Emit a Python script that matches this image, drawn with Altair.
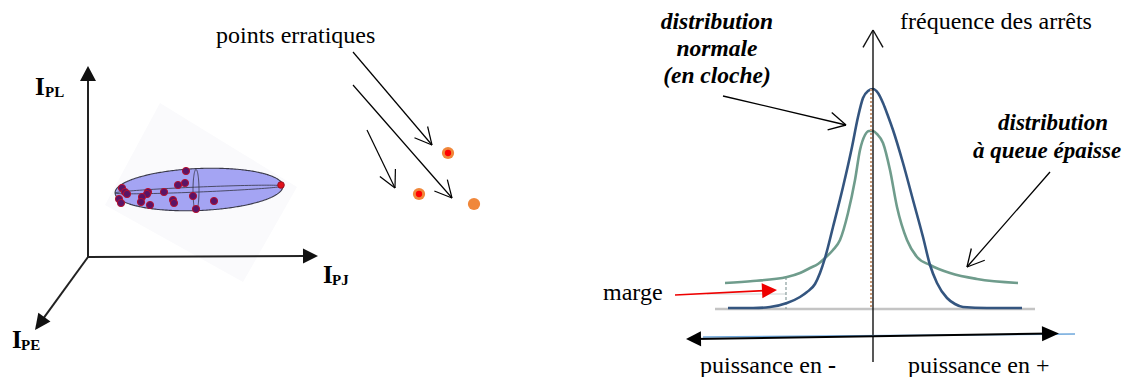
import math
import altair as alt
import pandas as pd

# ---------------- canvas (data units = picture pixels) ----------------
X_DOMAIN = [8, 1123]
Y_DOMAIN = [8, 377]
W_PLOT = 1115
H_PLOT = 369

# ---------------- left panel : 3-D axes ----------------
AXIS_ORIGIN = (88, 257)
AXIS_TIP_X = [88, 318, 35]
AXIS_TIP_Y = [66, 256, 330]
AXIS_HEAD_LEN = [15, 15, 16]
AXIS_HEAD_W = [16, 15, 15]
AXIS_SUB = ["PL", "PJ", "PE"]
AXIS_I_X = [35, 323, 12]
AXIS_I_Y = [95, 283, 348]
AXIS_SUB_X = [45, 332, 21]
AXIS_SUB_Y = [97, 285, 350]

# faint backdrop behind the ellipse (polygon vertices, in order)
HALO_X = [105, 160, 297, 243]
HALO_Y = [205, 103, 187, 282]

# ellipsoid (centre, semi-axes, tilt in degrees)
ELL_CX, ELL_CY, ELL_A, ELL_B, ELL_TILT = 199, 189.5, 84, 21, -2.4
RING_FLAT = (199, 189.5, 84, 2.5, -2.4)
RING_VERT = (196, 190.5, 3, 21, 0)

CLUSTER_X = [186, 178, 185, 122, 125, 127, 148, 147, 164, 142, 141, 150, 173, 174, 193, 214, 196, 119, 121]
CLUSTER_Y = [171, 185, 183, 188, 192, 194, 192, 194, 192, 197, 202, 205, 200, 203, 196, 201, 209, 199, 203]
EXTREME_X = [281]
EXTREME_Y = [185]

OUTLIER_X = [448, 419, 474]
OUTLIER_Y = [153, 194, 204]
OUTLIER_CORE = [True, True, False]

POINTER_TAIL_X = [353, 353, 367]
POINTER_TAIL_Y = [52, 85, 130]
POINTER_TIP_X = [432, 452, 395]
POINTER_TIP_Y = [145, 198, 188]

# ---------------- right panel : distributions ----------------
BELL_X = [728, 753, 770, 787, 800, 807, 815, 820, 825, 833, 843, 852, 858, 863, 868, 873,
          878, 883, 888, 893, 903, 913, 923, 930, 937, 947, 955, 963, 987, 1022]
BELL_Y = [308, 308, 307, 303, 297, 292, 284, 273, 258, 227, 187, 147, 117, 98, 91, 89,
          93, 103, 116, 130, 163, 200, 237, 265, 283, 298, 304, 307, 308, 308]

FAT_X = [725, 753, 787, 800, 810, 818, 825, 833, 840, 848, 855, 860, 865, 869, 873,
         877, 883, 890, 897, 907, 917, 930, 950, 977, 1018]
FAT_Y = [283, 281, 277, 273, 268, 264, 258, 250, 240, 213, 180, 150, 135, 131, 131,
         134, 143, 170, 207, 240, 257, 265, 273, 279, 283]

FREQ_AXIS_X = 873
FREQ_AXIS_Y = [362, 30]
POWER_TIP_LEFT = (686, 339)
POWER_TIP_RIGHT = (1059, 333.5)
POWER_BLUE = [(703, 337), (1075, 334)]
BASELINE = [(715, 309), (1035, 309)]
MARGIN_GUIDE = [(707, 294), (786, 294)]
MARGIN_DASH = [(786, 277), (786, 309)]
CENTER_DOT = [(871, 89), (871, 309)]
MARGE_ARROW = [(675, 295), (777, 290)]
NORMAL_ARROW = [(723, 96), (846, 125)]
FAT_ARROW = [(1050, 172), (967, 267)]

# ---------------- texts ----------------
REG_TEXT = ["points erratiques", "fréquence des arrêts", "marge", "puissance en", "puissance en +"]
REG_X = [216, 900, 603, 700, 908]
REG_Y = [43, 29, 300, 373, 373]
MINUS_TEXT = ["-"]
MINUS_X = [828]
MINUS_Y = [373]

BI_C_TEXT = ["distribution", "normale", "(en cloche)"]
BI_C_X = [717, 717, 717]
BI_C_Y = [29, 56, 83]

BI_L_TEXT = ["distribution", "à queue épaisse"]
BI_L_X = [998, 973]
BI_L_Y = [130, 158]

# =====================================================================
FONT = "Liberation Serif"
xs = alt.Scale(domain=X_DOMAIN, nice=False, zero=False)
ys = alt.Scale(domain=Y_DOMAIN, reverse=True, nice=False, zero=False)
X = alt.X("x:Q", scale=xs, axis=None)
Y = alt.Y("y:Q", scale=ys, axis=None, stack=None)


def unit(tail, tip):
    dx, dy = tip[0] - tail[0], tip[1] - tail[1]
    d = math.hypot(dx, dy)
    return dx / d, dy / d


def poly_rows(pts, gid, color):
    rows = []
    xs_ = sorted(set(round(p[0], 4) for p in pts))
    n = len(pts)
    for x in xs_:
        yy = []
        for i in range(n):
            (x1, y1), (x2, y2) = pts[i], pts[(i + 1) % n]
            if abs(x2 - x1) < 1e-9:
                if abs(x - x1) < 1e-3:
                    yy += [y1, y2]
            elif min(x1, x2) - 1e-3 <= x <= max(x1, x2) + 1e-3:
                t = (x - x1) / (x2 - x1)
                yy.append(y1 + t * (y2 - y1))
        rows.append({"g": gid, "x": x, "y": min(yy), "y2": max(yy), "c": color})
    return rows


def ellipse_pts(cx, cy, a, b, tilt, n=180):
    th = math.radians(tilt)
    out = []
    for k in range(n):
        t = 2 * math.pi * k / n
        out.append((cx + a * math.cos(t) * math.cos(th) - b * math.sin(t) * math.sin(th),
                    cy + a * math.cos(t) * math.sin(th) + b * math.sin(t) * math.cos(th)))
    return out


def tri(tail, tip, L, W):
    ux, uy = unit(tail, tip)
    bx, by = tip[0] - L * ux, tip[1] - L * uy
    nx, ny = -uy, ux
    return [tip, (bx + nx * W / 2, by + ny * W / 2), (bx - nx * W / 2, by - ny * W / 2)]


def open_head(tail, tip, L=18, half=28):
    ux, uy = unit(tail, tip)
    segs = []
    for s in (1, -1):
        a = math.radians(half * s)
        vx, vy = -ux, -uy
        rx, ry = vx * math.cos(a) - vy * math.sin(a), vx * math.sin(a) + vy * math.cos(a)
        segs.append((tip, (tip[0] + L * rx, tip[1] + L * ry)))
    return segs


# ---------- filled shapes ----------
halo_df = pd.DataFrame(poly_rows(list(zip(HALO_X, HALO_Y)), "halo", "#fafafc"))
ell_df = pd.DataFrame(poly_rows(ellipse_pts(ELL_CX, ELL_CY, ELL_A, ELL_B, ELL_TILT), "ell", "#a4a4f3"))

ring_rows = []
for gid, prm in (("flat", RING_FLAT), ("vert", RING_VERT)):
    pts = ellipse_pts(*prm, n=120)
    pts.append(pts[0])
    for i, (x, y) in enumerate(pts):
        ring_rows.append({"g": gid, "i": i, "x": x, "y": y})
ring_df = pd.DataFrame(ring_rows)

tri_rows = []
for k in range(3):
    tip = (AXIS_TIP_X[k], AXIS_TIP_Y[k])
    tri_rows += poly_rows(tri(AXIS_ORIGIN, tip, AXIS_HEAD_LEN[k], AXIS_HEAD_W[k]), "ax%d" % k, "#111111")
tri_rows += poly_rows(tri(POWER_TIP_RIGHT, POWER_TIP_LEFT, 15, 15), "pl", "#000000")
tri_rows += poly_rows(tri(POWER_TIP_LEFT, POWER_TIP_RIGHT, 17, 15), "pr", "#000000")
tri_rows += poly_rows(tri(MARGE_ARROW[0], MARGE_ARROW[1], 15, 15), "red", "#ee0000")
tri_df = pd.DataFrame(tri_rows)

# ---------- segments ----------
seg = []


def add(p, q, c, w):
    seg.append({"x": p[0], "y": p[1], "x2": q[0], "y2": q[1], "c": c, "w": w})


bg = []
bg.append({"x": BASELINE[0][0], "y": BASELINE[0][1], "x2": BASELINE[1][0], "y2": BASELINE[1][1], "c": "#c4c4c4", "w": 2.5})
bg.append({"x": MARGIN_GUIDE[0][0], "y": MARGIN_GUIDE[0][1], "x2": MARGIN_GUIDE[1][0], "y2": MARGIN_GUIDE[1][1], "c": "#cfd6d6", "w": 1.2})
bg_df = pd.DataFrame(bg)

for k in range(3):
    tip = (AXIS_TIP_X[k], AXIS_TIP_Y[k])
    ux, uy = unit(AXIS_ORIGIN, tip)
    base = (tip[0] - (AXIS_HEAD_LEN[k] - 2) * ux, tip[1] - (AXIS_HEAD_LEN[k] - 2) * uy)
    add(AXIS_ORIGIN, base, "#222222", 2)

for k in range(3):
    tail = (POINTER_TAIL_X[k], POINTER_TAIL_Y[k])
    tip = (POINTER_TIP_X[k], POINTER_TIP_Y[k])
    add(tail, tip, "#000000", 1.2)
    for p, q in open_head(tail, tip, 19, 27):
        add(p, q, "#000000", 1.2)

fa_tail, fa_tip = (FREQ_AXIS_X, FREQ_AXIS_Y[0]), (FREQ_AXIS_X, FREQ_AXIS_Y[1])
add(fa_tail, fa_tip, "#111111", 1.4)
for p, q in open_head(fa_tail, fa_tip, 20, 30):
    add(p, q, "#111111", 1.4)

add(POWER_BLUE[0], POWER_BLUE[1], "#6fa8dc", 1.6)
add((POWER_TIP_LEFT[0] + 8, POWER_TIP_LEFT[1]), (POWER_TIP_RIGHT[0] - 8, POWER_TIP_RIGHT[1]), "#000000", 2)

for tail, tip in (NORMAL_ARROW, FAT_ARROW):
    add(tail, tip, "#000000", 1.3)
    for p, q in open_head(tail, tip, 19, 28):
        add(p, q, "#000000", 1.3)
ux, uy = unit(*MARGE_ARROW)
add(MARGE_ARROW[0], (MARGE_ARROW[1][0] - 13 * ux, MARGE_ARROW[1][1] - 13 * uy), "#ee0000", 1.6)
seg_df = pd.DataFrame(seg)

dash_df = pd.DataFrame([{"x": MARGIN_DASH[0][0], "y": MARGIN_DASH[0][1], "x2": MARGIN_DASH[1][0], "y2": MARGIN_DASH[1][1]}])
dot_df = pd.DataFrame([{"x": CENTER_DOT[0][0], "y": CENTER_DOT[0][1], "x2": CENTER_DOT[1][0], "y2": CENTER_DOT[1][1]}])

curve_df = pd.concat([
    pd.DataFrame({"x": FAT_X, "y": FAT_Y, "g": "fat", "c": "#6f9c8c"}),
    pd.DataFrame({"x": BELL_X, "y": BELL_Y, "g": "bell", "c": "#34557f"}),
])

cluster_df = pd.DataFrame({"x": CLUSTER_X, "y": CLUSTER_Y})
extreme_df = pd.DataFrame({"x": EXTREME_X, "y": EXTREME_Y})
out_df = pd.DataFrame({"x": OUTLIER_X, "y": OUTLIER_Y, "core": OUTLIER_CORE})

reg_df = pd.DataFrame({"t": REG_TEXT, "x": REG_X, "y": REG_Y})
minus_df = pd.DataFrame({"t": MINUS_TEXT, "x": MINUS_X, "y": MINUS_Y})
bic_df = pd.DataFrame({"t": BI_C_TEXT, "x": BI_C_X, "y": BI_C_Y})
bil_df = pd.DataFrame({"t": BI_L_TEXT, "x": BI_L_X, "y": BI_L_Y})
i_df = pd.DataFrame({"t": ["I"] * 3, "x": AXIS_I_X, "y": AXIS_I_Y})
sub_df = pd.DataFrame({"t": AXIS_SUB, "x": AXIS_SUB_X, "y": AXIS_SUB_Y})

# ---------- layers ----------
area_enc = dict(x=X, y=Y, y2="y2:Q", detail="g:N", color=alt.Color("c:N", scale=None))

halo = alt.Chart(halo_df).mark_area(orient="vertical").encode(**area_enc)
ell = alt.Chart(ell_df).mark_area(orient="vertical", stroke="#3a3a4a", strokeWidth=1.1).encode(**area_enc)
rings = alt.Chart(ring_df).mark_line(color="#333344", strokeWidth=0.8).encode(
    x=X, y=Y, detail="g:N", order=alt.Order("i:Q"))
cluster = alt.Chart(cluster_df).mark_circle(size=52, color="#5a1466", opacity=1,
                                            stroke="#b8102e", strokeWidth=1).encode(x=X, y=Y)
extreme = alt.Chart(extreme_df).mark_circle(size=45, color="#e0101a", opacity=1,
                                            stroke="#8a0a20", strokeWidth=0.8).encode(x=X, y=Y)
outer = alt.Chart(out_df).mark_circle(size=150, color="#f0873a", opacity=1).encode(x=X, y=Y)
core = alt.Chart(out_df[out_df["core"]]).mark_circle(size=40, color="#ff0000", opacity=1).encode(x=X, y=Y)

bg_lines = alt.Chart(bg_df).mark_rule().encode(
    x=X, y=Y, x2="x2:Q", y2="y2:Q", color=alt.Color("c:N", scale=None),
    strokeWidth=alt.StrokeWidth("w:Q", scale=None))
dash = alt.Chart(dash_df).mark_rule(color="#8a9e9e", strokeWidth=1.2, strokeDash=[3, 2]).encode(
    x=X, y=Y, x2="x2:Q", y2="y2:Q")
dots = alt.Chart(dot_df).mark_rule(color="#c99a78", strokeWidth=2, strokeDash=[2, 2]).encode(
    x=X, y=Y, x2="x2:Q", y2="y2:Q")
curves = alt.Chart(curve_df).mark_line(interpolate="monotone", strokeWidth=2.6).encode(
    x=X, y=Y, detail="g:N", color=alt.Color("c:N", scale=None))
segs = alt.Chart(seg_df).mark_rule().encode(
    x=X, y=Y, x2="x2:Q", y2="y2:Q", color=alt.Color("c:N", scale=None),
    strokeWidth=alt.StrokeWidth("w:Q", scale=None))
tris = alt.Chart(tri_df).mark_area(orient="vertical").encode(**area_enc)

reg_txt = alt.Chart(reg_df).mark_text(font=FONT, fontSize=24, align="left", baseline="alphabetic",
                                      color="#000000").encode(x=X, y=Y, text="t:N")
minus_txt = alt.Chart(minus_df).mark_text(font=FONT, fontSize=24, fontWeight="bold", align="left",
                                          baseline="alphabetic", color="#000000").encode(x=X, y=Y, text="t:N")
bic_txt = alt.Chart(bic_df).mark_text(font=FONT, fontSize=23.5, fontWeight="bold", fontStyle="italic",
                                      align="center", baseline="alphabetic", color="#000000").encode(
    x=X, y=Y, text="t:N")
bil_txt = alt.Chart(bil_df).mark_text(font=FONT, fontSize=23, fontWeight="bold", fontStyle="italic",
                                      align="left", baseline="alphabetic", color="#000000").encode(
    x=X, y=Y, text="t:N")
i_txt = alt.Chart(i_df).mark_text(font=FONT, fontSize=25, fontWeight="bold", align="left",
                                  baseline="alphabetic", color="#000000").encode(x=X, y=Y, text="t:N")
sub_txt = alt.Chart(sub_df).mark_text(font=FONT, fontSize=15, fontWeight="bold", align="left",
                                      baseline="alphabetic", color="#000000").encode(x=X, y=Y, text="t:N")

chart = alt.layer(
    halo, ell, rings, cluster, extreme, outer, core,
    bg_lines, dash, curves, dots, segs, tris,
    reg_txt, minus_txt, bic_txt, bil_txt, i_txt, sub_txt,
).properties(
    width=W_PLOT, height=H_PLOT,
    autosize=alt.AutoSizeParams(type="none"),
    padding=0,
    background="#ffffff",
).configure_view(stroke=None)

chart.save("out.html", embed_options={"renderer": "svg", "actions": False})
